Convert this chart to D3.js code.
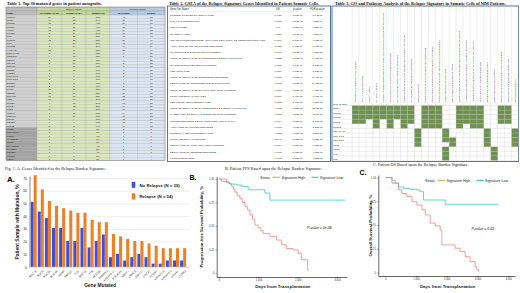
<!DOCTYPE html>
<html>
<head>
<meta charset="utf-8">
<script src="https://cdn.jsdelivr.net/npm/d3@7/dist/d3.min.js"></script>
<style>
  body { margin: 0; background: #fff; }
  svg { display: block; }
</style>
</head>
<body>
<script>
// ---------- Table 1: top mutated genes ----------
const t1Genes = ["MUC16","MUC4","MUC20","MUC3A","HRNR","KMT2C","FLG","MUC12","TTN","MUC5B","AHNAK2",
  "KRTAP4-11","PDE4DIP","NBPF1","OR4C3","ZNF717","CDC27","FCGBP","KRTAP1-3","KRTAP5-5","SIRPB1","LILRB3",
  "MUC6","OBSCN","DNAH11","NEB","SYNE1","USH2A","PLEC","MUC17","NBPF10","RP1L1","CSMD1","LRP1B",
  "KRT2*","KRTAP9-1*","FRG2*","MAGEC1*","TPTE*","PRAMEF1*","CYP2D6*","POTEE*","KRT10*","AQP7*"];
const t1NoRel = [20,17,15,12,12,8,8,12,6,8,10,3,4,2,3,4,3,1,1,2,2,2,15,13,11,10,9,9,8,7,7,6,6,5,1,1,1,0,0,0,1,0,0,0];
const t1Rel = [39,33,28,26,25,24,23,23,20,19,19,14,13,12,11,11,10,9,8,8,8,8,20,17,15,14,13,12,11,10,10,9,9,8,6,6,5,5,5,4,4,4,3,3];
const t1Freq = ["63%","54%","46%","41%","40%","34%","33%","38%","28%","29%","31%","18%","18%","15%","15%","16%","14%","11%","10%","11%","11%","11%",
  "38%","32%","28%","26%","24%","23%","20%","18%","18%","16%","16%","14%","8%","8%","6%","5%","5%","4%","5%","4%","3%","3%"];
const t1MutNo = [42,35,30,25,24,17,15,26,12,16,21,6,8,4,5,8,6,2,2,4,3,3,30,27,22,20,18,19,16,14,15,12,13,10,2,2,1,1,1,1,2,1,1,1];
const t1MutRel = [88,70,61,56,52,50,47,49,41,39,40,29,27,25,22,23,20,18,16,17,16,16,43,36,32,30,28,26,24,21,22,19,19,17,8,8,6,7,6,5,5,5,4,4];
const t1Heads = ["Name","No Relapse (N=39)","Relapse (N=54)","SampleFreq","No Relapse","Relapse"];

// ---------- Table 2: GSEA ----------
const gsNames = ["PROTEIN O LINKED GLYCOSYLATION","N GLYCAN PROCESSING","GOLGI LUMEN","GLYCOSYLATION",
  "INNATE IMMUNE RESPONSE ACTIVATING CELL SURFACE RECEPTOR SIGNALING","ACTIVATION OF INNATE IMMUNE RESPONSE",
  "GLYCOPROTEIN BIOSYNTHETIC PROCESS","POSITIVE REGULATION OF RESPONSE TO BIOTIC STIMULUS","GLYCOPROTEIN METABOLIC PROCESS",
  "KERATINIZATION","POSITIVE REGULATION OF DEFENSE RESPONSE","REGULATION OF RESPONSE TO BIOTIC STIMULUS",
  "POSITIVE REGULATION OF MULTI ORGANISM PROCESS","SUPRAMOLECULAR POLYMER","KERATINOCYTE DIFFERENTIATION",
  "POSITIVE REGULATION OF RESPONSE TO EXTERNAL STIMULUS","CARBOHYDRATE DERIVATIVE BIOSYNTHETIC PROCESS",
  "IMMUNE RESPONSE REGULATING SIGNALING PATHWAY","ACTIVATION OF IMMUNE RESPONSE","EPIDERMAL CELL DIFFERENTIATION",
  "SUPRAMOLECULAR COMPLEX","REGULATION OF MULTI ORGANISM PROCESS","REGULATION OF DEFENSE RESPONSE","SKIN DEVELOPMENT"];
const gsRatio = ["0.0421","0.0667","0.04","0.0187","0.0346","0.0155","0.0147","0.0225","0.0121","0.0176","0.0097","0.0096",
  "0.0093","0.0061","0.0132","0.0078","0.0075","0.0074","0.0068","0.0112","0.0047","0.0064","0.0062","0.0098"];
const gsP = ["5.80E-09","3.80E-08","3.05E-07","3.74E-07","5.30E-07","6.41E-07","1.26E-06","2.73E-06","3.14E-06","7.73E-06","8.18E-06","8.80E-06",
  "1.17E-05","1.47E-05","2.40E-05","3.86E-05","3.90E-05","3.97E-05","4.60E-05","4.71E-05","5.02E-05","6.60E-05","7.78E-05","8.18E-05"];
const gsFdr = ["8.64E-05","1.88E-04","9.58E-04","9.58E-04","1.08E-03","1.08E-03","1.82E-03","3.47E-03","3.80E-03","7.81E-03","8.41E-03","8.41E-03",
  "9.18E-03","1.07E-02","1.75E-02","2.61E-02","2.61E-02","2.61E-02","2.85E-02","2.85E-02","2.92E-02","3.75E-02","4.32E-02","4.35E-02"];

// ---------- Table 3: gene x gene set ----------
const t3Genes = ["MUC4","MUC16","MUC20","MUC3A","MUC12","KRTAP4-11","KRTAP1-3","KRTAP5-5","KRT2","HRNR","FLG","TTN"];
const t3Hits = [
  "111111111011100111100110",
  "111111111011100111100110",
  "111111111011100111100110",
  "110101011011100111100110",
  "000101010011100101100000",
  "000000000100010000010001",
  "000000000100010000010001",
  "000000000100011000010001",
  "000000000100001000010001",
  "000000000000010000001000",
  "000000000000010000001000",
  "000000000000010000001000"];

// ---------- Fig 1A ----------
const barGenes = ["MUC16","MUC4","MUC20","MUC3A","HRNR","KMT2C","FLG","MUC12","TTN","MUC5B","AHNAK2",
  "KRTAP4-11","PDE4DIP","NBPF1","OR4C3","ZNF717","CDC27","FCGBP","KRTAP1-3","KRTAP5-5","SIRPB1","LILRB3"];
const pctNoRelapse = [51.3,43.6,38.5,30.8,30.8,20.5,20.5,30.8,15.4,20.5,25.6,7.7,10.3,5.1,7.7,10.3,7.7,2.6,2.6,5.1,5.1,5.1];
const pctRelapse = [72.2,61.1,51.9,48.1,46.3,44.4,42.6,42.6,37.0,35.2,35.2,25.9,24.1,22.2,20.4,20.4,18.5,16.7,14.8,14.8,14.8,14.8];
const barTicks = [0,10,20,30,40,50,60,70];

// ---------- Fig 1B / 1C (Kaplan-Meier) ----------
const pfsHighDays = [0,190,250,320,370,405,460,530,590,660,720,785,850,910,995,1060,1120,1290,1460,1590,1710,1880,2010,2090,2250];
const pfsHighSurv = [1,0.97,0.95,0.92,0.89,0.86,0.82,0.79,0.75,0.71,0.67,0.62,0.57,0.51,0.48,0.45,0.42,0.39,0.35,0.30,0.26,0.245,0.21,0.14,0.02];
const pfsLowDays = [0,60,190,280,450,575,740,1165,1290,3200];
const pfsLowSurv = [1,0.975,0.96,0.945,0.935,0.92,0.885,0.85,0.775,0.775];
const osHighDays = [0,217,325,432,542,705,867,1029,1192,1299,1461,1623,1786,1841,2273,2435,2597,2760,2922,2977,3030];
const osHighSurv = [1,0.97,0.94,0.87,0.83,0.80,0.745,0.71,0.66,0.605,0.52,0.49,0.447,0.29,0.255,0.22,0.166,0.114,0.06,0.03,0.01];
const osLowDays = [0,217,433,595,812,1029,1136,1244,1948,3680];
const osLowSurv = [1,0.94,0.90,0.886,0.875,0.868,0.85,0.763,0.718,0.718];
const survTicks = [0,0.25,0.5,0.75,1];
const pfsDayTicks = [0,1000,2000,3000];
const osDayTicks = [0,1000,2000,3000,4000];

const serif = "'Liberation Serif','Times New Roman',serif";
const sans = "'Liberation Sans',Arial,sans-serif";

const svg = d3.select("body").append("svg").attr("width", 520).attr("height", 293);

function txt(g, x, y, s, size, opts = {}) {
  return g.append("text").attr("x", x).attr("y", y).text(s)
    .attr("font-family", opts.family || sans)
    .attr("font-size", size)
    .attr("font-weight", opts.weight || "normal")
    .attr("font-style", opts.style || "normal")
    .attr("text-anchor", opts.anchor || "start")
    .attr("fill", opts.fill || "#111");
}

// ================= Table 1 =================
(function () {
  const g = svg.append("g");
  txt(g, 7, 4.6, "Table 1. Top 30 mutated genes in patient autografts.", 4.3, { family: serif, weight: "bold" });
  const edges = [6, 37, 62, 86, 110, 137.5, 165];
  const cols = [t1Genes, t1NoRel, t1Rel, t1Freq, t1MutNo, t1MutRel];
  const kind = ["name", "green", "green", "green", "blue", "blue"];
  const headFill = { name: "#bdbdbd", green: "#c3d69b", blue: "#b7cbe3" };
  const rows = d3.scaleBand().domain(d3.range(t1Genes.length)).range([15, 160.5]);
  const lightRows = 34;

  // header row 1
  [[0, 1, ""], [1, 4, "Sample Count"], [4, 6, "Mutation Count"]].forEach(([a, b, s]) => {
    g.append("rect").attr("x", edges[a]).attr("y", 7).attr("width", edges[b] - edges[a]).attr("height", 4)
      .attr("fill", headFill[kind[a]]).attr("stroke", "#8f8f8f").attr("stroke-width", 0.25);
    txt(g, (edges[a] + edges[b]) / 2, 10.1, s, 2.4, { anchor: "middle" });
  });
  // header row 2
  t1Heads.forEach((h, i) => {
    g.append("rect").attr("x", edges[i]).attr("y", 11).attr("width", edges[i + 1] - edges[i]).attr("height", 4)
      .attr("fill", headFill[kind[i]]).attr("stroke", "#8f8f8f").attr("stroke-width", 0.25);
    txt(g, i === 0 ? edges[i] + 1 : (edges[i] + edges[i + 1]) / 2, 14.1, h, 2.2,
      { anchor: i === 0 ? "start" : "middle", weight: "bold" });
  });
  // body
  cols.forEach((col, i) => {
    col.forEach((v, r) => {
      let fill = kind[i] === "green" ? "#d8e5bd" : kind[i] === "blue" ? "#dbe5f1" : (r < lightRows ? "#d0d0d0" : "#a3a3a3");
      g.append("rect").attr("x", edges[i]).attr("y", rows(r)).attr("width", edges[i + 1] - edges[i])
        .attr("height", rows.bandwidth()).attr("fill", fill).attr("stroke", "#9b9b9b").attr("stroke-width", 0.2);
      txt(g, i === 0 ? edges[i] + 1 : (edges[i] + edges[i + 1]) / 2, rows(r) + rows.bandwidth() * 0.8, v, 2.3,
        { anchor: i === 0 ? "start" : "middle", fill: "#1a1a1a" });
    });
  });
  g.append("rect").attr("x", 6).attr("y", 7).attr("width", 159).attr("height", 153.5)
    .attr("fill", "none").attr("stroke", "#666").attr("stroke-width", 0.4);
})();

// ================= Table 2 =================
(function () {
  const g = svg.append("g");
  txt(g, 169, 4.6, "Table 2. GSEA of the Relapse Signature Genes Identified in Patient Somatic Cells.", 4.3, { family: serif, weight: "bold" });
  g.append("rect").attr("x", 167.5).attr("y", 6).attr("width", 163).attr("height", 155.5)
    .attr("fill", "#fff").attr("stroke", "#41689c").attr("stroke-width", 0.9);
  const rows = d3.scaleBand().domain(d3.range(gsNames.length)).range([12, 161]);
  const colX = [170, 278, 297.5, 317.5];
  txt(g, colX[0], 10.3, "Gene Set Name", 2.6, { fill: "#222" });
  ["k/K", "p-value", "FDR q-value"].forEach((h, i) => txt(g, colX[i + 1], 10.3, h, 2.6, { anchor: "middle", fill: "#222" }));
  g.append("line").attr("x1", 168).attr("x2", 330).attr("y1", 11.5).attr("y2", 11.5).attr("stroke", "#c9d3e0").attr("stroke-width", 0.3);
  gsNames.forEach((n, r) => {
    const y = rows(r) + rows.bandwidth() * 0.65;
    txt(g, colX[0], y, n, 2.45, { fill: "#1f1f1f" });
    txt(g, colX[1], y, gsRatio[r], 2.45, { anchor: "middle", fill: "#1f1f1f" });
    txt(g, colX[2], y, gsP[r], 2.45, { anchor: "middle", fill: "#1f1f1f" });
    txt(g, colX[3], y, gsFdr[r], 2.45, { anchor: "middle", fill: "#1f1f1f" });
  });
})();

// ================= Table 3 =================
(function () {
  const g = svg.append("g");
  txt(g, 335, 4.6, "Table 3. GO and Pathway Analysis of the Relapse Signature in Somatic Cells of MM Patients.", 4.3, { family: serif, weight: "bold" });
  g.append("rect").attr("x", 332).attr("y", 6).attr("width", 186.5).attr("height", 155.5)
    .attr("fill", "#fff").attr("stroke", "#41689c").attr("stroke-width", 0.9);
  const cols = d3.scaleBand().domain(d3.range(gsNames.length)).range([352, 518.5]);
  const rows = d3.scaleBand().domain(d3.range(t3Genes.length)).range([105.5, 160.5]);
  // green hits
  t3Hits.forEach((s, r) => {
    s.split("").forEach((c, j) => {
      if (c === "1") g.append("rect").attr("x", cols(j)).attr("y", rows(r))
        .attr("width", cols.bandwidth()).attr("height", rows.bandwidth()).attr("fill", "#6e9150");
    });
  });
  // grid
  d3.range(gsNames.length + 1).forEach(j => {
    const x = 352 + j * cols.step();
    g.append("line").attr("x1", x).attr("x2", x).attr("y1", 7).attr("y2", 160.5).attr("stroke", "#c4c4c4").attr("stroke-width", 0.3);
  });
  d3.range(t3Genes.length + 1).forEach(r => {
    const y = 105.5 + r * rows.step();
    g.append("line").attr("x1", 332).attr("x2", 518.5).attr("y1", y).attr("y2", y).attr("stroke", "#c4c4c4").attr("stroke-width", 0.3);
  });
  txt(g, 333, 104.5, "Gene Symbol", 2.3, { fill: "#222" });
  t3Genes.forEach((n, r) => txt(g, 333, rows(r) + rows.bandwidth() * 0.8, n, 2.3, { fill: "#222" }));
  gsNames.forEach((n, j) => {
    const cx = cols(j) + cols.bandwidth() / 2 + 0.8;
    g.append("text").attr("transform", `translate(${cx},102.5) rotate(-90)`).text(n)
      .attr("font-family", sans).attr("font-size", 2.3).attr("fill", "#222");
  });
})();

// ================= Fig 1A =================
(function () {
  const g = svg.append("g");
  txt(g, 5, 169.5, "Fig. 1. A. Genes Identified as the Relapse Burden Signature.", 4.2, { family: serif });
  txt(g, 7, 181.5, "A.", 8, { weight: "bold", fill: "#000" });

  const x = d3.scaleBand().domain(barGenes).range([30.3, 186.5]).paddingInner(0.15).paddingOuter(0.05);
  const sub = d3.scaleBand().domain(["no", "rel"]).range([0, x.bandwidth()]);
  const y = d3.scaleLinear().domain([0, 70]).range([267, 178]);

  const grid = g.append("g").attr("transform", "translate(30,0)")
    .call(d3.axisLeft(y).tickValues(barTicks).tickSize(-160).tickFormat(""));
  grid.select(".domain").remove();
  grid.selectAll("line").attr("stroke", "#dadada").attr("stroke-width", 0.4);

  const yAx = g.append("g").attr("transform", "translate(30,0)")
    .call(d3.axisLeft(y).tickValues(barTicks).tickSize(0).tickPadding(3));
  yAx.select(".domain").remove();
  yAx.selectAll("text").attr("font-family", sans).attr("font-size", 3.4).attr("fill", "#333");

  barGenes.forEach((gene, i) => {
    g.append("rect").attr("x", x(gene) + sub("no")).attr("y", y(pctNoRelapse[i]))
      .attr("width", sub.bandwidth()).attr("height", y(0) - y(pctNoRelapse[i])).attr("fill", "#3c4fe0");
    g.append("rect").attr("x", x(gene) + sub("rel")).attr("y", y(pctRelapse[i]))
      .attr("width", sub.bandwidth()).attr("height", y(0) - y(pctRelapse[i])).attr("fill", "#f07f22");
  });

  g.append("line").attr("x1", 30).attr("x2", 30).attr("y1", 176.5).attr("y2", 267.5).attr("stroke", "#8a8a8a").attr("stroke-width", 1);
  g.append("line").attr("x1", 30).attr("x2", 190).attr("y1", 267).attr("y2", 267).attr("stroke", "#bdbdbd").attr("stroke-width", 0.5);

  const xAx = g.append("g").attr("transform", "translate(0,267)")
    .call(d3.axisBottom(x).tickSize(0).tickPadding(2));
  xAx.select(".domain").remove();
  xAx.selectAll("text").attr("font-family", sans).attr("font-size", 2.8).attr("fill", "#333")
    .attr("text-anchor", "end").attr("dy", 0)
    .attr("transform", "translate(1.5,3) rotate(-45)");

  g.append("text").attr("transform", "translate(19,222) rotate(-90)").text("Patient Sample with Mutation, %")
    .attr("font-family", sans).attr("font-size", 4.9).attr("font-weight", "bold").attr("text-anchor", "middle").attr("fill", "#222");
  txt(g, 100, 287, "Gene Mutated", 4.8, { weight: "bold", anchor: "middle", fill: "#222" });

  g.append("rect").attr("x", 131.7).attr("y", 181.8).attr("width", 3.6).attr("height", 6).attr("fill", "#3c4fe0");
  txt(g, 139.5, 186.6, "No Relapse (N = 39)", 4.3, { weight: "bold", fill: "#222" });
  g.append("rect").attr("x", 131.7).attr("y", 193.3).attr("width", 3.6).attr("height", 6).attr("fill", "#f07f22");
  txt(g, 139.5, 198.1, "Relapse (N = 54)", 4.3, { weight: "bold", fill: "#222" });
})();

// ================= Kaplan-Meier panels =================
function drawKM(o) {
  const g = svg.append("g");
  txt(g, o.capX, o.capY, o.caption, 4.2, { family: serif });
  txt(g, o.labX, o.labY, o.label, 7, { weight: "bold", fill: "#000" });
  const x = d3.scaleLinear().domain(o.xDomain).range(o.xRange);
  const y = d3.scaleLinear().domain(o.yDomain).range(o.yRange);

  const xAx = g.append("g").attr("transform", `translate(0,${o.yRange[0]})`)
    .call(d3.axisBottom(x).tickValues(o.xTicks).tickSize(1.2).tickSizeOuter(0).tickPadding(1.2));
  const yAx = g.append("g").attr("transform", `translate(${o.xRange[0]},0)`)
    .call(d3.axisLeft(y).tickValues(survTicks).tickSize(1.2).tickSizeOuter(0).tickPadding(1.2)
      .tickFormat(d => d === 0 ? "0" : d3.format(".2f")(d)));
  [xAx, yAx].forEach(a => {
    a.select(".domain").attr("stroke", "#000").attr("stroke-width", 0.6);
    a.selectAll("line").attr("stroke", "#000").attr("stroke-width", 0.4);
    a.selectAll("text").attr("font-family", sans).attr("font-size", 2.6).attr("fill", "#333");
  });

  const line = d3.line().curve(d3.curveStepAfter).x(d => x(d[0])).y(d => y(d[1]));
  o.curves.forEach(c => {
    g.append("path").datum(d3.zip(c.days, c.surv)).attr("d", line)
      .attr("fill", "none").attr("stroke", c.color).attr("stroke-width", 0.75);
  });

  // legend
  const ly = o.legY;
  txt(g, o.legX, ly + 1.3, "Strata:", 3.6, { fill: "#222" });
  g.append("line").attr("x1", o.legX + 12.5).attr("x2", o.legX + 20).attr("y1", ly).attr("y2", ly)
    .attr("stroke", "#f39a3a").attr("stroke-width", 1);
  txt(g, o.legX + 21.5, ly + 1.3, "Signature High", 3.6, { fill: "#222" });
  g.append("line").attr("x1", o.legX + 51.5).attr("x2", o.legX + 58.5).attr("y1", ly).attr("y2", ly)
    .attr("stroke", "#19c2c2").attr("stroke-width", 1);
  txt(g, o.legX + 60, ly + 1.3, "Signature Low", 3.6, { fill: "#222" });

  txt(g, o.pX, o.pY, o.pText, 3.5, { fill: "#111", style: "italic" });

  txt(g, (o.xRange[0] + o.xRange[1]) / 2 + 1, 288, "Days from Transplantation", 4.4, { weight: "bold", anchor: "middle", fill: "#222" });
  g.append("text").attr("transform", `translate(${o.yTitleX},${(o.yRange[0] + o.yRange[1]) / 2}) rotate(-90)`)
    .text(o.yTitle).attr("font-family", sans).attr("font-size", 4.3).attr("font-weight", "bold")
    .attr("text-anchor", "middle").attr("fill", "#222");
}

drawKM({
  caption: "B. Patient PFS Based upon the Relapse Burden Signature.", capX: 225, capY: 169.8,
  label: "B.", labX: 189.5, labY: 179.5,
  xDomain: [-60, 3250], xRange: [216.7, 347], yDomain: [-0.043, 1.025], yRange: [277, 176.6],
  xTicks: pfsDayTicks,
  curves: [
    { days: pfsLowDays, surv: pfsLowSurv, color: "#2ec7c7" },
    { days: pfsHighDays, surv: pfsHighSurv, color: "#f47f7a" }
  ],
  legX: 260, legY: 177.3, pX: 307, pY: 228.5, pText: "P-value = 3e-06",
  yTitle: "Progression-free Survival Probability, %", yTitleX: 203
});

drawKM({
  caption: "C. Patient OS Based upon the Relapse Burden Signature.", capX: 373, capY: 165.8,
  label: "C.", labX: 359.5, labY: 174.5,
  xDomain: [-227, 4221], xRange: [378.3, 515], yDomain: [-0.037, 1.026], yRange: [276, 175],
  xTicks: osDayTicks,
  curves: [
    { days: osLowDays, surv: osLowSurv, color: "#2ec7c7" },
    { days: osHighDays, surv: osHighSurv, color: "#f47f7a" }
  ],
  legX: 425, legY: 180.3, pX: 471.5, pY: 229.5, pText: "P-value = 0.02",
  yTitle: "Overall Survival Probability, %", yTitleX: 371.5
});
</script>
</body>
</html>
